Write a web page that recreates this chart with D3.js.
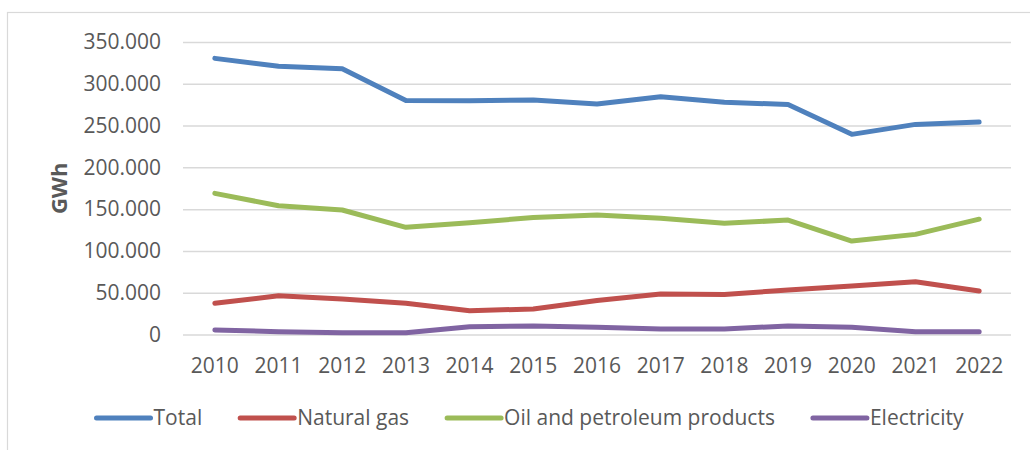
<!DOCTYPE html>
<html>
<head>
<meta charset="utf-8">
<script src="https://cdn.jsdelivr.net/npm/d3@7"></script>
<style>
  body { margin: 0; background: #fff; }
  svg text { font-family: "Open Sans", sans-serif; fill: #595959; }
</style>
</head>
<body>
<svg id="chart" width="1030" height="450"></svg>
<script>
// data (GWh)
const years = [2010, 2011, 2012, 2013, 2014, 2015, 2016, 2017, 2018, 2019, 2020, 2021, 2022]
const total = [330400, 321000, 318000, 280000, 279700, 280500, 275700, 284400, 277800, 275300, 239500, 251400, 254200]
const naturalGas = [37300, 46400, 42500, 37300, 28500, 30500, 40600, 48400, 48000, 53200, 58000, 63200, 52000]
const oilProducts = [168900, 154000, 149000, 128200, 133700, 140000, 143000, 139000, 133000, 137000, 111800, 119800, 138000]
const electricity = [5400, 3400, 2200, 2200, 9300, 10200, 8600, 6600, 6600, 10200, 8600, 3400, 3400]
const yTicks = [0, 50000, 100000, 150000, 200000, 250000, 300000, 350000]

const series = [
    {name: "Total", values: total, color: "#4f81bd"},
    {name: "Natural gas", values: naturalGas, color: "#c0504d"},
    {name: "Oil and petroleum products", values: oilProducts, color: "#9bbb59"},
    {name: "Electricity", values: electricity, color: "#8064a2"}
]

const svg = d3.select("#chart")
const FONT = 21

//outer chart frame (only top and left edges are inside the picture)
svg.append("rect")
    .attr("x", 7.5).attr("y", 12.5)
    .attr("width", 1100).attr("height", 500)
    .attr("fill", "none").attr("stroke", "#d9d9d9").attr("stroke-width", 1.2)

const plot = {left: 183, right: 1011, top: 42, bottom: 334.5}

const x = d3.scaleBand().domain(years).range([plot.left, plot.right])
const y = d3.scaleLinear().domain([0, 350000]).range([plot.bottom, plot.top])
const fmt = v => d3.format(",")(v).replace(/,/g, ".")

//gridlines + labels
const yAxis = d3.axisLeft(y).tickValues(yTicks).tickSize(-(plot.right - plot.left)).tickPadding(22).tickFormat(fmt)
const gy = svg.append("g").attr("transform", `translate(${plot.left},0)`).call(yAxis)
gy.select(".domain").remove()
gy.selectAll("line").attr("stroke", "#d9d9d9").attr("stroke-width", 1.5)
gy.selectAll("text").attr("font-size", FONT).attr("fill", "#595959").attr("font-family", "'Open Sans', sans-serif")

const xAxis = d3.axisBottom(x).tickSize(0).tickPadding(24)
const gx = svg.append("g").attr("transform", `translate(0,${plot.bottom})`).call(xAxis)
gx.select(".domain").remove()
gx.selectAll("text").attr("font-size", FONT).attr("fill", "#595959").attr("font-family", "'Open Sans', sans-serif")

svg.append("text")
    .attr("transform", `translate(67,${(plot.top + plot.bottom) / 2}) rotate(-90)`)
    .attr("text-anchor", "middle")
    .attr("font-size", 22).attr("font-weight", "bold")
    .text("GWh")

//lines
const line = d3.line()
    .x((d, i) => x(years[i]) + x.bandwidth() / 2)
    .y(d => y(d))

series.forEach(s => {
    svg.append("path")
        .datum(s.values)
        .attr("d", line)
        .attr("fill", "none")
        .attr("stroke", s.color)
        .attr("stroke-width", 5)
        .attr("stroke-linejoin", "round")
        .attr("stroke-linecap", "round")
})

//legend, centred in the chart frame
const legend = svg.append("g")
const items = series.map(s => {
    const g = legend.append("g")
    g.append("line").attr("x1", 0).attr("x2", 54).attr("y1", 0).attr("y2", 0)
        .attr("stroke", s.color).attr("stroke-width", 5).attr("stroke-linecap", "round")
    const t = g.append("text").attr("x", 57).attr("y", 7).attr("font-size", FONT).text(s.name)
    return {g, w: 57 + t.node().getComputedTextLength()}
})
const gap = 38
const span = d3.sum(items, d => d.w) + gap * (items.length - 1)
let cx = 530 - span / 2
items.forEach(it => {
    it.g.attr("transform", `translate(${cx},418)`)
    cx += it.w + gap
})
</script>
</body>
</html>
